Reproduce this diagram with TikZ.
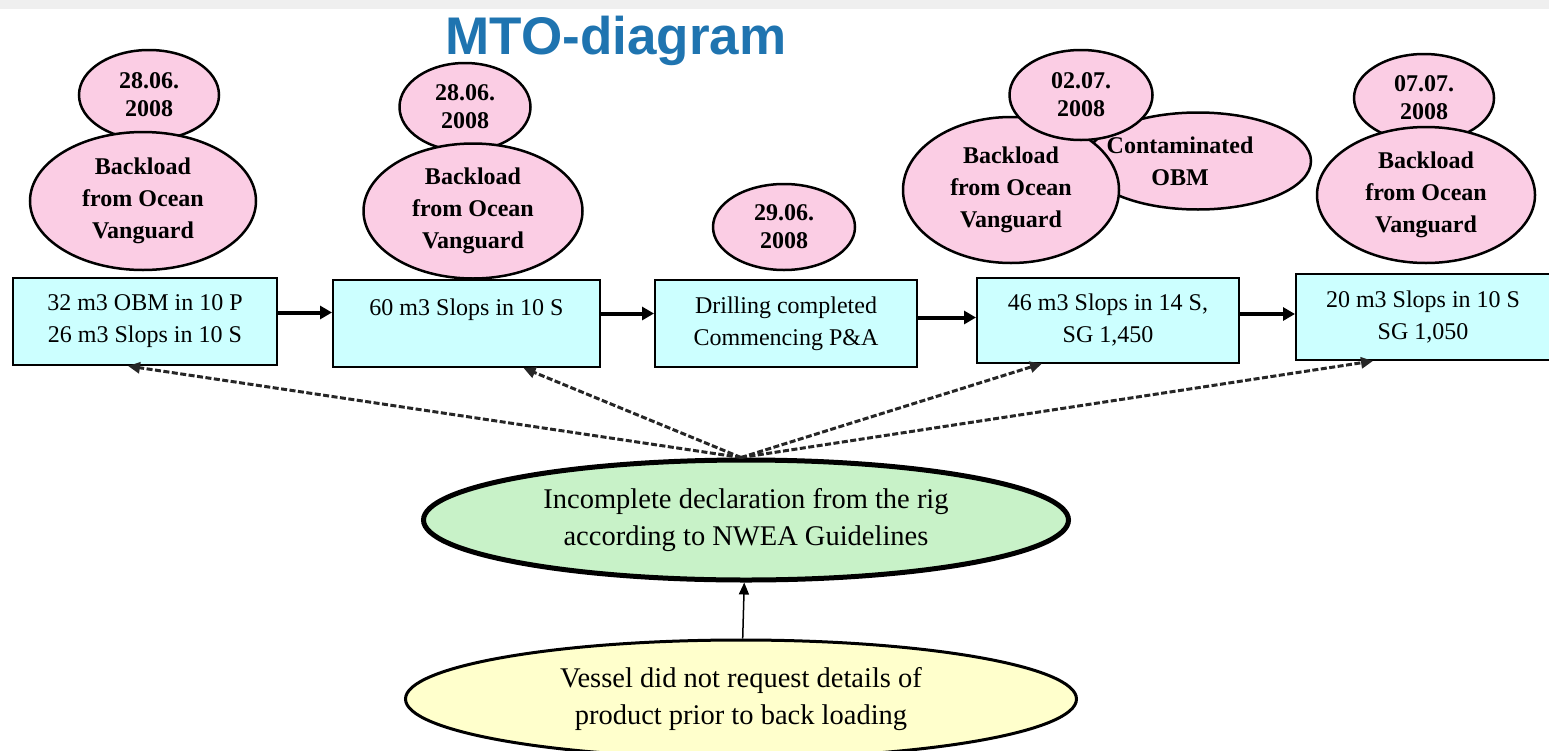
\documentclass[tikz,border=0pt]{standalone}
\usepackage{fontspec}
\setmainfont{Liberation Serif}
\newfontfamily\titlefont{Liberation Sans}
\usetikzlibrary{positioning,shapes.geometric,arrows.meta}
\definecolor{boxcyan}{HTML}{CCFFFF}
\definecolor{ovalpink}{HTML}{FBCDE4}
\definecolor{causegreen}{HTML}{C8F2C8}
\definecolor{rootyellow}{HTML}{FFFFCC}
\definecolor{titleblue}{HTML}{1F74B0}
\definecolor{bandgray}{HTML}{EFEFEF}

\begin{document}
\begin{tikzpicture}[x=1pt, y=-1pt,
    stagebox/.style = {draw, fill=boxcyan, line width=2pt, align=center, inner sep=0pt, font=\fontsize{24}{32}\selectfont},
    dateoval/.style = {draw, ellipse, fill=ovalpink, line width=2.5pt, align=center, inner sep=0pt, font=\bfseries\fontsize{24}{28}\selectfont},
    loadoval/.style = {dateoval, font=\bfseries\fontsize{24}{32}\selectfont},
    causeoval/.style = {draw, ellipse, align=center, inner sep=0pt, font=\fontsize{28.5}{37}\selectfont},
    flowarrow/.style = {line width=4pt, -{Triangle[length=12pt,width=13pt]}},
    linkarrow/.style = {draw=black!85, line width=3pt, dash pattern=on 6pt off 2.5pt, -{Triangle[length=12pt,width=11pt]}}]
    \useasboundingbox (0,0) rectangle (1549,750);
    \fill[bandgray] (0,0) rectangle (1549,9);
    \node[font=\titlefont\bfseries\fontsize{53}{60}\selectfont, text=titleblue] (title) at (616,41) {MTO-diagram};

    % time line of the backloads
    \node[stagebox, minimum width=264pt, minimum height=87pt] (b1) at (145,321.5) {32 m3 OBM in 10 P\\26 m3 Slops in 10 S};
    \node[stagebox, minimum width=267pt, minimum height=87pt] (b2) at (466.5,323.5) {60 m3 Slops in 10 S\\~};
    \node[stagebox, minimum width=262pt, minimum height=87pt] (b3) at (786,323.5) {Drilling completed\\Commencing P\&A};
    \node[stagebox, minimum width=262pt, minimum height=85pt] (b4) at (1108,320) {46 m3 Slops in 14 S,\\SG 1,450};
    \node[stagebox, minimum width=254pt, minimum height=86pt] (b5) at (1423,317) {20 m3 Slops in 10 S\\SG 1,050};

    % dates and events
    \node[dateoval, minimum width=140pt, minimum height=90pt] (d1) at (149,95) {28.06.\\2008};
    \node[loadoval, minimum width=226pt, minimum height=138pt] (l1) at (143,201) {Backload\\from Ocean\\Vanguard};
    \node[dateoval, minimum width=131pt, minimum height=88pt] (d2) at (465,107) {28.06.\\2008};
    \node[loadoval, minimum width=219pt, minimum height=135pt] (l2) at (473,211) {Backload\\from Ocean\\Vanguard};
    \node[dateoval, minimum width=142pt, minimum height=86pt] (d3) at (784,227) {29.06.\\2008};
    \node[loadoval, minimum width=226pt, minimum height=97pt] (c4) at (1198,161) {\hspace*{-36pt}Contaminated\\\hspace*{-36pt}OBM};
    \node[loadoval, minimum width=216pt, minimum height=146pt] (l4) at (1011,190) {Backload\\from Ocean\\Vanguard};
    \node[dateoval, minimum width=143pt, minimum height=90pt] (d4) at (1081,95) {02.07.\\2008};
    \node[dateoval, minimum width=140pt, minimum height=88pt] (d5) at (1424,98) {07.07.\\2008};
    \node[loadoval, minimum width=218pt, minimum height=136pt] (l5) at (1426,195) {Backload\\from Ocean\\Vanguard};

    % causes
    \node[causeoval, fill=causegreen, line width=5pt, minimum width=645pt, minimum height=120pt] (cause) at (746,520) {Incomplete declaration from the rig\\according to NWEA Guidelines};
    \node[causeoval, fill=rootyellow, line width=3pt, minimum width=671pt, minimum height=118pt] (root) at (741,699) {Vessel did not request details of\\product prior to back loading};

    \draw[flowarrow] ([yshift=9pt]b1.east) -- ([yshift=9pt]b1.east -| b2.west);
    \draw[flowarrow] ([yshift=10pt]b2.east) -- ([yshift=10pt]b2.east -| b3.west);
    \draw[flowarrow] ([yshift=6pt]b3.east) -- ([yshift=6pt]b3.east -| b4.west);
    \draw[flowarrow] ([yshift=6pt]b4.east) -- ([yshift=6pt]b4.east -| b5.west);

    \draw[linkarrow] ([xshift=-5pt]cause.north) -- ([xshift=-17pt]b1.south);
    \draw[linkarrow] ([xshift=-5pt]cause.north) -- ([xshift=57pt]b2.south);
    \draw[linkarrow] ([xshift=-5pt]cause.north) -- ([xshift=-66pt]b4.south);
    \draw[linkarrow] ([xshift=-5pt]cause.north) -- ([xshift=-50pt]b5.south);
    \draw[line width=1.5pt, -{Triangle[length=12pt,width=10pt]}] (root) -- (cause);
\end{tikzpicture}
\end{document}
